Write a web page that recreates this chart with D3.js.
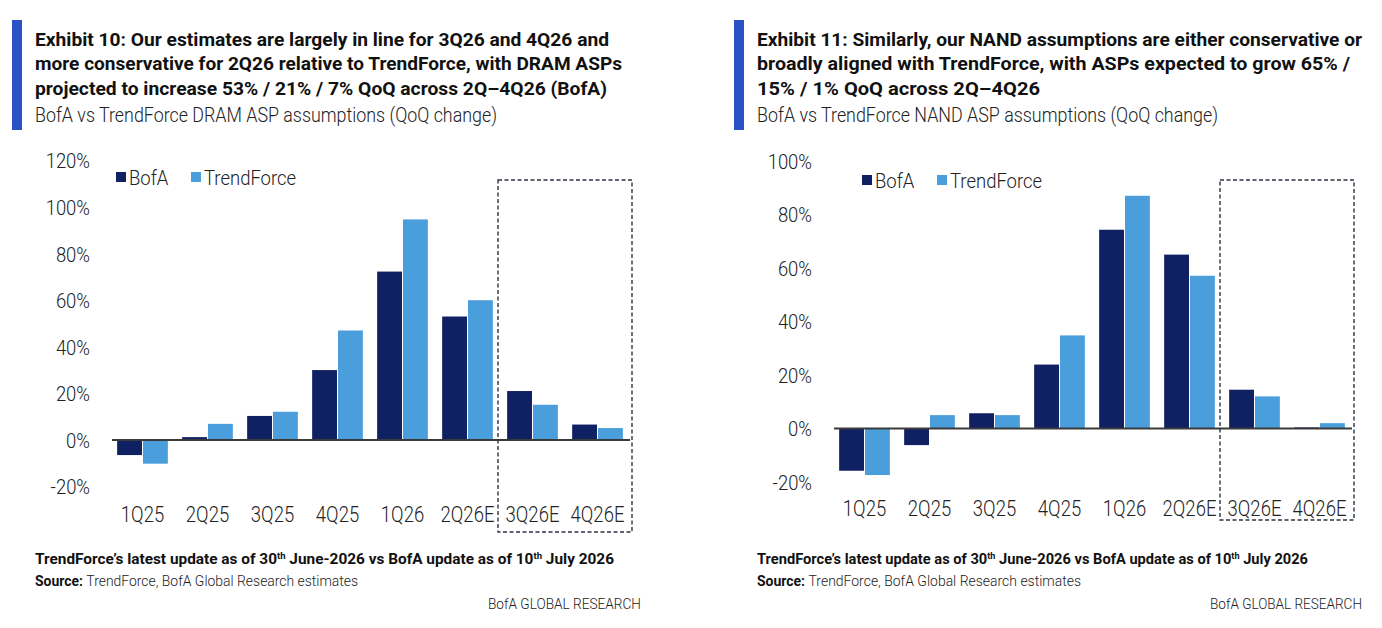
<!DOCTYPE html>
<html>
<head>
<meta charset="utf-8">
<script src="https://cdn.jsdelivr.net/npm/d3@7"></script>
<style>
  html, body { margin: 0; padding: 0; background: #fff; }
  svg { display: block; }
  .bold { font-family: "Liberation Sans Narrow", "Roboto", sans-serif; font-weight: 700; fill: #111; }
  .light { font-family: "Roboto", "Open Sans", sans-serif; font-weight: 300; fill: #222; }
</style>
</head>
<body>
<svg id="chart" width="1382" height="628"></svg>
<script>
// ---------- DATA ----------
const categories = ["1Q25", "2Q25", "3Q25", "4Q25", "1Q26", "2Q26E", "3Q26E", "4Q26E"];
const seriesNames = ["BofA", "TrendForce"];
const dramBofA = [-6.5, 1.2, 10.3, 30, 72.3, 53, 21, 6.6];
const dramTrendForce = [-10.2, 6.9, 12.1, 47, 94.7, 60, 15.1, 5.1];
const nandBofA = [-15.8, -6.2, 5.7, 23.9, 74.3, 65, 14.5, 0.4];
const nandTrendForce = [-17.4, 5.0, 5.0, 34.8, 87, 57.1, 12.0, 2.0];
const dramTicks = [-20, 0, 20, 40, 60, 80, 100, 120];
const nandTicks = [-20, 0, 20, 40, 60, 80, 100];
const estimateCategories = ["3Q26E", "4Q26E"];

const titleLeft = [
  "Exhibit 10: Our estimates are largely in line for 3Q26 and 4Q26 and",
  "more conservative for 2Q26 relative to TrendForce, with DRAM ASPs",
  "projected to increase 53% / 21% / 7% QoQ across 2Q\u20134Q26 (BofA)"
];
const subtitleLeft = "BofA vs TrendForce DRAM ASP assumptions (QoQ change)";
const titleRight = [
  "Exhibit 11: Similarly, our NAND assumptions are either conservative or",
  "broadly aligned with TrendForce, with ASPs expected to grow 65% /",
  "15% / 1% QoQ across 2Q\u20134Q26"
];
const subtitleRight = "BofA vs TrendForce NAND ASP assumptions (QoQ change)";

const colors = { BofA: "#0f2163", TrendForce: "#4a9edc" };
const accent = "#2b52c4";

const svg = d3.select("#chart");

function fit(sel, target) {
  const w = sel.node().getComputedTextLength();
  if (w > 0 && target) sel.attr("textLength", target).attr("lengthAdjust", "spacingAndGlyphs");
  return sel;
}
function condense(sel, factor) {
  sel.each(function () {
    const w = this.getComputedTextLength();
    if (w > 0) d3.select(this).attr("textLength", w * factor).attr("lengthAdjust", "spacingAndGlyphs");
  });
  return sel;
}

function header(g, x0, lines, subtitle, widths, subWidth) {
  g.append("rect").attr("x", x0 - 23).attr("y", 20).attr("width", 10).attr("height", 110).attr("fill", accent);
  lines.forEach((t, i) => {
    const el = g.append("text").attr("class", "bold").attr("x", x0).attr("y", 45.5 + i * 24.6)
      .attr("font-size", 18.5).text(t);
    fit(el, widths[i]);
  });
  const s = g.append("text").attr("class", "light").attr("x", x0).attr("y", 122)
    .attr("font-size", 20.5).attr("fill", "#333").text(subtitle);
  fit(s, subWidth);
}

function footer(g, x0, xr, w1, w2, w3) {
  const t1 = g.append("text").attr("class", "bold").attr("x", x0).attr("y", 564).attr("font-size", 14.5);
  t1.append("tspan").text("TrendForce\u2019s latest update as of 30");
  t1.append("tspan").attr("font-size", 9).attr("dy", -5).text("th");
  t1.append("tspan").attr("dy", 5).text(" June-2026 vs BofA update as of 10");
  t1.append("tspan").attr("font-size", 9).attr("dy", -5).text("th");
  t1.append("tspan").attr("dy", 5).text(" July 2026");
  fit(t1, w1);
  const t2 = g.append("text").attr("x", x0).attr("y", 586).attr("font-size", 15);
  t2.append("tspan").attr("class", "bold").text("Source: ");
  t2.append("tspan").attr("class", "light").attr("fill", "#222").text("TrendForce, BofA Global Research estimates");
  fit(t2, w2);
  const t3 = g.append("text").attr("class", "light").attr("x", xr - w3).attr("y", 608.5).attr("font-size", 15)
    .attr("fill", "#666").text("BofA GLOBAL RESEARCH");
  fit(t3, w3);
}

function barChart(g, cfg) {
  const x = d3.scaleBand().domain(categories).range([cfg.x0, cfg.x1]).paddingInner(0.22).paddingOuter(0.11);
  const xs = d3.scaleBand().domain(seriesNames).range([0, x.bandwidth()]).paddingInner(0.04);
  const y = d3.scaleLinear().domain(cfg.domain).range([cfg.yBottom, cfg.yTop]);
  const rows = categories.map((c, i) => ({ c, BofA: cfg.bofa[i], TrendForce: cfg.tf[i] }));

  // y tick labels
  const yAxis = d3.axisLeft(y).tickValues(cfg.ticks).tickSize(0).tickPadding(0).tickFormat(d => d + "%");
  const ya = g.append("g").attr("transform", `translate(${cfg.tickX},0)`).call(yAxis);
  ya.select(".domain").remove();
  ya.attr("font-family", null);
  const yt = ya.selectAll("text").attr("class", "light").attr("font-size", 20.5).attr("fill", "#333").attr("dy", "0.36em");
  condense(yt, 0.9);

  // bars
  const grp = g.append("g").selectAll("g").data(rows).join("g")
    .attr("transform", d => `translate(${x(d.c)},0)`);
  grp.selectAll("rect").data(d => seriesNames.map(s => ({ s, v: d[s] }))).join("rect")
    .attr("x", d => xs(d.s))
    .attr("width", xs.bandwidth())
    .attr("y", d => y(Math.max(0, d.v)))
    .attr("height", d => Math.abs(y(d.v) - y(0)))
    .attr("fill", d => colors[d.s]);

  // zero line
  g.append("line").attr("x1", cfg.x0 + 2).attr("x2", cfg.x1).attr("y1", y(0)).attr("y2", y(0))
    .attr("stroke", "#3a3a3a").attr("stroke-width", 2);

  // x labels
  const xAxis = d3.axisBottom(x).tickSize(0).tickPadding(0);
  const xa = g.append("g").attr("transform", `translate(0,${cfg.labelY})`).call(xAxis);
  xa.select(".domain").remove();
  xa.attr("font-family", null);
  const xt = xa.selectAll("text").attr("class", "light").attr("font-size", 21.5).attr("fill", "#333").attr("dy", "0.36em");
  condense(xt, 0.86);

  // dashed estimate box
  const step = x.step();
  const bx0 = x(estimateCategories[0]) - step * 0.11 - 2;
  const bx1 = cfg.x1 + 2;
  g.append("rect").attr("x", bx0).attr("y", cfg.boxTop).attr("width", bx1 - bx0).attr("height", cfg.boxBottom - cfg.boxTop)
    .attr("fill", "none").attr("stroke", "#2d3440").attr("stroke-width", 1.4).attr("stroke-dasharray", "4,2.5");

  // legend
  const lg = g.append("g").attr("transform", `translate(${cfg.legendX},${cfg.legendY})`);
  let lx = 0;
  seriesNames.forEach(s => {
    lg.append("rect").attr("x", lx).attr("y", -5).attr("width", 10).attr("height", 10).attr("fill", colors[s]);
    const t = lg.append("text").attr("class", "light").attr("x", lx + 13).attr("y", 0).attr("dy", "0.36em")
      .attr("font-size", 21).attr("fill", "#222").text(s);
    condense(t, 0.88);
    lx += 75;
  });
}

const left = svg.append("g");
header(left, 35, titleLeft, subtitleLeft, [574, 587, 572], 462);
barChart(left, {
  x0: 110, x1: 630, domain: [-20, 120], yBottom: 486.5, yTop: 160.5, ticks: dramTicks,
  bofa: dramBofA, tf: dramTrendForce, tickX: 90, labelY: 514, boxTop: 180, boxBottom: 532,
  legendX: 116, legendY: 177
});
footer(left, 35, 641, 579, 323, 153);

const right = svg.append("g");
header(right, 757, titleRight, subtitleRight, [605, 593, 283], 461);
barChart(right, {
  x0: 832, x1: 1352, domain: [-20, 100], yBottom: 482, yTop: 161, ticks: nandTicks,
  bofa: nandBofA, tf: nandTrendForce, tickX: 812, labelY: 508, boxTop: 180, boxBottom: 520,
  legendX: 862, legendY: 180
});
footer(right, 757, 1362, 551, 324, 152);
</script>
</body>
</html>
